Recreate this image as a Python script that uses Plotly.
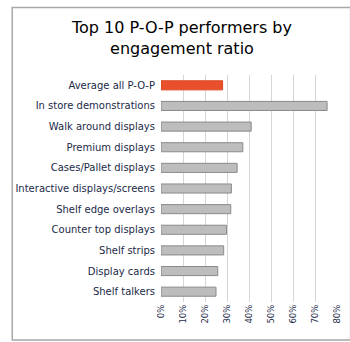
import plotly.graph_objects as go

categories = ["Average all P-O-P", "In store demonstrations", "Walk around displays",
              "Premium displays", "Cases/Pallet displays", "Interactive displays/screens",
              "Shelf edge overlays", "Counter top displays", "Shelf strips",
              "Display cards", "Shelf talkers"]
values = [28, 75.5, 41, 37.2, 34.6, 32, 31.7, 29.8, 28.5, 25.8, 25]
tick_vals = [0, 10, 20, 30, 40, 50, 60, 70, 80]
tick_text = ["0%", "10%", "20%", "30%", "40%", "50%", "60%", "70%", "80%"]

W, H = 350, 342
ml, mr, mt, mb = 161, 8, 75, 40
pw, ph = W - ml - mr, H - mt - mb

colors = ["#e8502c"] + ["#bdbdbd"] * (len(values) - 1)
lines = ["#d9461f"] + ["#8a8a8a"] * (len(values) - 1)

fig = go.Figure()
fig.add_trace(go.Bar(
    y=categories, x=values, orientation="h", width=0.44,
    marker=dict(color=colors, line=dict(color=lines, width=1)),
    hoverinfo="skip"))

def px_x(x):
    return (x - ml) / pw

def px_y(y):
    return (H - mb - y) / ph

fig.add_shape(type="rect", xref="paper", yref="paper",
              x0=px_x(8), x1=px_x(356), y0=px_y(340), y1=px_y(7.5),
              line=dict(color="#a8a8a8", width=1.5), layer="below")

fig.update_layout(
    width=W, height=H,
    margin=dict(l=ml, r=mr, t=mt, b=mb, pad=0),
    paper_bgcolor="white", plot_bgcolor="white",
    showlegend=False,
    title=dict(text="Top 10 P-O-P performers by<br>engagement ratio",
               x=182 / W, xanchor="center", y=1 - 33 / H, yanchor="middle",
               font=dict(family="DejaVu Sans", size=16, color="#000000")),
    font=dict(family="DejaVu Sans", color="#1b2a48"),
    xaxis=dict(range=[0, 80], tickvals=tick_vals, ticktext=tick_text,
               tickangle=-90, tickfont=dict(size=8.5, color="#1b2a48"),
               showgrid=True, gridcolor="#d6d6d6", gridwidth=1,
               zeroline=False, showline=False, ticks="", fixedrange=True),
    yaxis=dict(autorange="reversed", tickfont=dict(size=10, color="#1b2a48"),
               showgrid=False, showline=False, ticks="", ticklen=0,
               ticklabelstandoff=5, fixedrange=True),
    bargap=0.5,
)

fig.write_html("out.html")
